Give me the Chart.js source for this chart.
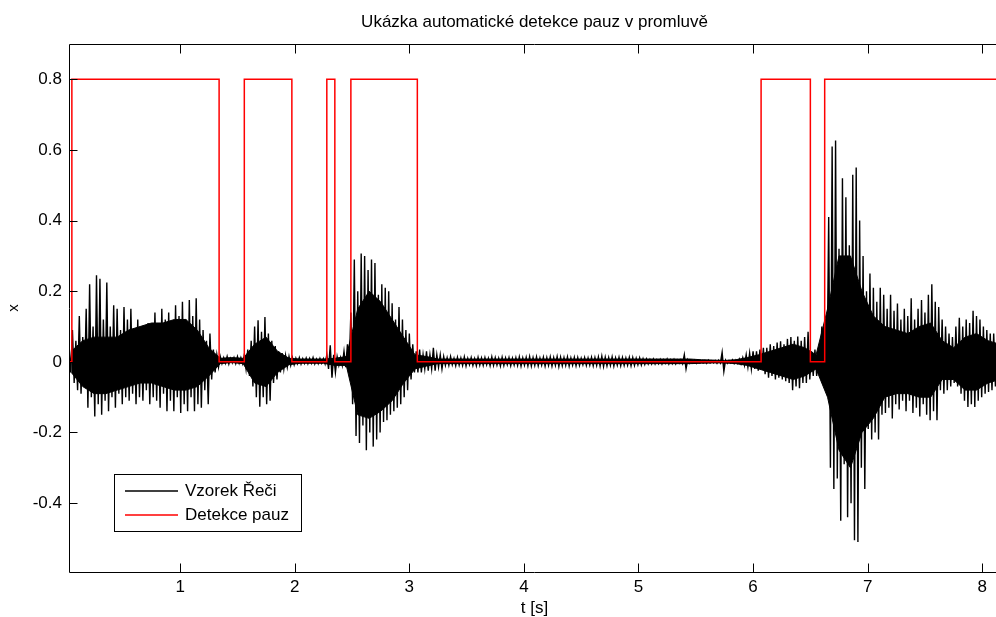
<!DOCTYPE html>
<html>
<head>
<meta charset="utf-8">
<script src="https://cdn.jsdelivr.net/npm/chart.js@4.4.1/dist/chart.umd.min.js"></script>
<style>
  html, body { margin: 0; padding: 0; background: #fff; overflow: hidden; }
</style>
</head>
<body>
<canvas id="myChart" width="1000" height="617"></canvas>
<script>
const chartTitle = "Ukázka automatické detekce pauz v promluvě";
const xTitle = "t [s]";
const yTitle = "x";
const seriesNames = ["Vzorek Řeči", "Detekce pauz"];
const seriesColors = ["#000000", "#ff0000"];
const xTicks = [1, 2, 3, 4, 5, 6, 7, 8];
const yTicks = [-0.4, -0.2, 0, 0.2, 0.4, 0.6, 0.8];

// speech sample: upper / lower peak in each 0.03 s window
const speechStart = 0.03;
const speechStep = 0.03;
const speechHi = [
    0.05, 0.09, 0.06, 0.13, 0.07, 0.15, 0.22, 0.1, 0.245, 0.235,
    0.12, 0.225, 0.1, 0.16, 0.15, 0.09, 0.155, 0.12, 0.15, 0.09,
    0.12, 0.08, 0.1, 0.11, 0.08, 0.14, 0.1, 0.15, 0.12, 0.14,
    0.1, 0.16, 0.13, 0.17, 0.12, 0.175, 0.13, 0.18, 0.12, 0.09,
    0.06, 0.08, 0.035, 0.02, 0.015, 0.012, 0.015, 0.01, 0.012, 0.015,
    0.012, 0.02, 0.035, 0.06, 0.1, 0.118, 0.085, 0.127, 0.08, 0.06,
    0.045, 0.03, 0.025, 0.018, 0.015, 0.012, 0.01, 0.012, 0.009, 0.011,
    0.01, 0.012, 0.008, 0.01, 0.009, 0.02, 0.047, 0.02, 0.015, 0.012,
    0.03, 0.05, 0.14, 0.29, 0.2, 0.307, 0.3, 0.26, 0.29, 0.28,
    0.19, 0.22, 0.21, 0.2, 0.166, 0.12, 0.155, 0.12, 0.09, 0.08,
    0.05, 0.03, 0.035, 0.02, 0.03, 0.02, 0.04, 0.02, 0.02, 0.015,
    0.012, 0.015, 0.01, 0.013, 0.011, 0.014, 0.01, 0.012, 0.009, 0.013,
    0.011, 0.012, 0.01, 0.014, 0.012, 0.01, 0.013, 0.011, 0.012, 0.01,
    0.012, 0.014, 0.011, 0.013, 0.015, 0.012, 0.014, 0.011, 0.013, 0.012,
    0.014, 0.012, 0.015, 0.013, 0.012, 0.014, 0.011, 0.013, 0.012, 0.01,
    0.012, 0.011, 0.013, 0.012, 0.014, 0.016, 0.013, 0.012, 0.014, 0.011,
    0.013, 0.012, 0.011, 0.013, 0.012, 0.01, 0.011, 0.009, 0.008, 0.007,
    0.008, 0.006, 0.007, 0.006, 0.008, 0.006, 0.007, 0.005, 0.006, 0.02,
    0.006, 0.004, 0.005, 0.004, 0.003, 0.004, 0.005, 0.003, 0.004, 0.005,
    0.027, 0.005, 0.004, 0.006, 0.005, 0.008, 0.012, 0.02, 0.025, 0.03,
    0.03, 0.035, 0.04, 0.04, 0.05, 0.045, 0.055, 0.058, 0.05, 0.065,
    0.07, 0.06, 0.072, 0.06, 0.07, 0.085, 0.03, 0.035, 0.03, 0.1,
    0.1, 0.41, 0.61, 0.627, 0.32, 0.52, 0.466, 0.33, 0.53, 0.55,
    0.4, 0.3, 0.2, 0.25, 0.21, 0.17, 0.21, 0.19, 0.15, 0.19,
    0.145, 0.165, 0.12, 0.15, 0.13, 0.18, 0.12, 0.15, 0.175, 0.14,
    0.19, 0.22, 0.17, 0.155, 0.12, 0.1, 0.08, 0.07, 0.1, 0.125,
    0.1, 0.12, 0.11, 0.145, 0.13, 0.12, 0.1, 0.09, 0.08, 0.08, 0.07
];
const speechLo = [
    -0.03, -0.06, -0.08, -0.09, -0.07, -0.13, -0.1, -0.155, -0.12, -0.15,
    -0.11, -0.14, -0.1, -0.13, -0.09, -0.12, -0.1, -0.11, -0.09, -0.12,
    -0.1, -0.11, -0.08, -0.12, -0.1, -0.11, -0.13, -0.09, -0.14, -0.11,
    -0.14, -0.1, -0.145, -0.12, -0.14, -0.1, -0.14, -0.12, -0.13, -0.08,
    -0.12, -0.05, -0.03, -0.015, -0.005, -0.004, -0.006, -0.003, -0.005, -0.004,
    -0.005, -0.02, -0.04, -0.07, -0.1, -0.127, -0.1, -0.12, -0.11, -0.06,
    -0.05, -0.03, -0.02, -0.015, -0.01, -0.008, -0.005, -0.006, -0.004, -0.005,
    -0.004, -0.006, -0.005, -0.004, -0.006, -0.02, -0.045, -0.03, -0.01, -0.01,
    -0.015, -0.02, -0.12, -0.21, -0.23, -0.18, -0.25, -0.2, -0.24, -0.22,
    -0.2, -0.17, -0.165, -0.15, -0.14, -0.13, -0.12, -0.1, -0.08, -0.05,
    -0.03, -0.03, -0.03, -0.02, -0.025, -0.02, -0.025, -0.015, -0.02, -0.01,
    -0.01, -0.008, -0.011, -0.009, -0.01, -0.012, -0.008, -0.01, -0.011, -0.009,
    -0.01, -0.008, -0.011, -0.01, -0.009, -0.012, -0.01, -0.008, -0.011, -0.009,
    -0.01, -0.012, -0.009, -0.011, -0.012, -0.01, -0.011, -0.009, -0.012, -0.01,
    -0.012, -0.01, -0.013, -0.011, -0.01, -0.012, -0.009, -0.011, -0.01, -0.008,
    -0.01, -0.009, -0.011, -0.01, -0.012, -0.013, -0.011, -0.01, -0.012, -0.009,
    -0.011, -0.01, -0.009, -0.011, -0.01, -0.008, -0.009, -0.007, -0.006, -0.006,
    -0.006, -0.005, -0.006, -0.004, -0.006, -0.005, -0.006, -0.004, -0.005, -0.02,
    -0.004, -0.003, -0.004, -0.003, -0.003, -0.004, -0.003, -0.003, -0.004, -0.003,
    -0.027, -0.004, -0.003, -0.005, -0.004, -0.006, -0.01, -0.015, -0.02, -0.02,
    -0.025, -0.02, -0.035, -0.045, -0.04, -0.05, -0.045, -0.05, -0.055, -0.06,
    -0.08, -0.07, -0.075, -0.06, -0.06, -0.05, -0.04, -0.04, -0.03, -0.05,
    -0.06, -0.3, -0.36, -0.33, -0.45, -0.29, -0.44, -0.4, -0.505, -0.51,
    -0.3, -0.36, -0.19, -0.22, -0.2, -0.22, -0.15, -0.145, -0.13, -0.16,
    -0.12, -0.135, -0.11, -0.14, -0.11, -0.145, -0.13, -0.155, -0.12, -0.15,
    -0.165, -0.14, -0.165, -0.08, -0.09, -0.08, -0.07, -0.06, -0.07, -0.09,
    -0.11, -0.128, -0.12, -0.128, -0.11, -0.1, -0.09, -0.085, -0.08, -0.07, -0.06
];

// dense solid core of the waveform, every 0.1 s
const coreStart = 0.05;
const coreStep = 0.1;
const coreHi = [
    0.03, 0.06, 0.07, 0.07, 0.07, 0.09, 0.1, 0.11, 0.11, 0.12,
    0.12, 0.09, 0.04, 0.01, 0.012, 0.01, 0.05, 0.07, 0.03, 0.01,
    0.008, 0.008, 0.008, 0.01, 0.015, 0.15, 0.2, 0.17, 0.12, 0.07,
    0.02, 0.015, 0.008, 0.008, 0.008, 0.008, 0.008, 0.008, 0.008, 0.008,
    0.008, 0.008, 0.008, 0.008, 0.008, 0.008, 0.008, 0.008, 0.008, 0.008,
    0.008, 0.008, 0.008, 0.008, 0.008, 0.006, 0.005, 0.004, 0.006, 0.012,
    0.02, 0.03, 0.04, 0.05, 0.04, 0.02, 0.15, 0.3, 0.3, 0.2,
    0.13, 0.1, 0.09, 0.08, 0.1, 0.11, 0.06, 0.04, 0.07, 0.08,
    0.06, 0.05
];
const coreLo = [
    -0.03, -0.07, -0.09, -0.09, -0.08, -0.07, -0.06, -0.06, -0.07, -0.08,
    -0.08, -0.07, -0.04, -0.005, -0.002, -0.005, -0.06, -0.07, -0.03, -0.008,
    -0.004, -0.004, -0.004, -0.01, -0.01, -0.15, -0.16, -0.14, -0.11, -0.06,
    -0.02, -0.012, -0.005, -0.005, -0.005, -0.005, -0.005, -0.005, -0.005, -0.005,
    -0.005, -0.005, -0.005, -0.005, -0.005, -0.005, -0.005, -0.005, -0.005, -0.005,
    -0.005, -0.005, -0.005, -0.005, -0.005, -0.004, -0.003, -0.003, -0.005, -0.01,
    -0.02, -0.03, -0.04, -0.05, -0.04, -0.02, -0.1, -0.25, -0.3, -0.2,
    -0.16, -0.1, -0.09, -0.09, -0.1, -0.1, -0.05, -0.05, -0.08, -0.08,
    -0.06, -0.05
];

// pause detector output: level switches at these times
const pauseTimes = [0.03, 0.055, 1.34, 1.56, 1.975, 2.28, 2.35, 2.49, 3.07, 6.07, 6.5, 6.625, 8.2];
const pauseLevels = [0, 0.8, 0, 0.8, 0, 0.8, 0, 0.8, 0, 0.8, 0, 0.8, 0.8];


window.onload = () => {
    const speech = [];
    speechHi.forEach((hi, i) => {
        const t = speechStart + i * speechStep;
        speech.push({ x: t, y: hi });
        speech.push({ x: t + speechStep / 2, y: speechLo[i] });
    });
    const coreTop = coreHi.map((v, i) => ({ x: coreStart + i * coreStep, y: v }));
    const coreBottom = coreLo.map((v, i) => ({ x: coreStart + i * coreStep, y: v }));
    const pauses = pauseTimes.map((t, i) => ({ x: t, y: pauseLevels[i] }));

    addChart(speech, coreTop, coreBottom, pauses);
}


// MATLAB style box round the axes with inward ticks
const framePlugin = {
    id: "frame",
    afterDraw(chart) {
        const { ctx, chartArea: a, scales } = chart;
        const l = Math.round(a.left) + 0.5, r = Math.round(a.right) - 0.5;
        const t = Math.round(a.top) + 0.5, b = Math.round(a.bottom) + 0.5;
        ctx.save();
        ctx.strokeStyle = "#000";
        ctx.lineWidth = 1;
        ctx.beginPath();
        ctx.rect(l, t, r - l, b - t);
        xTicks.forEach(v => {
            const px = Math.round(scales.x.getPixelForValue(v)) + 0.5;
            ctx.moveTo(px, b); ctx.lineTo(px, b - 9);
            ctx.moveTo(px, t); ctx.lineTo(px, t + 9);
        });
        yTicks.forEach(v => {
            const py = Math.round(scales.y.getPixelForValue(v)) + 0.5;
            ctx.moveTo(l, py); ctx.lineTo(l + 8, py);
        });
        ctx.stroke();
        ctx.restore();
    }
};

// legend box inside the plot, lower left
const legendPlugin = {
    id: "boxLegend",
    afterDraw(chart) {
        const ctx = chart.ctx;
        const x = 114.5, y = 474.5, w = 187, h = 57;
        ctx.save();
        ctx.fillStyle = "#fff";
        ctx.fillRect(x, y, w, h);
        ctx.strokeStyle = "#000";
        ctx.lineWidth = 1;
        ctx.strokeRect(x, y, w, h);
        ctx.font = "17px 'Liberation Sans', Arial, sans-serif";
        ctx.textBaseline = "middle";
        seriesNames.forEach((name, i) => {
            const ry = 491 + i * 24;
            ctx.strokeStyle = seriesColors[i];
            ctx.lineWidth = 1.5;
            ctx.beginPath();
            ctx.moveTo(125, ry);
            ctx.lineTo(178, ry);
            ctx.stroke();
            ctx.fillStyle = "#000";
            ctx.fillText(name, 185, ry);
        });
        ctx.restore();
    }
};


function addChart(speech, coreTop, coreBottom, pauses) {
    Chart.defaults.font.family = "'Liberation Sans', Arial, sans-serif";
    Chart.defaults.color = "#000";

    const data = {
        datasets: [
            {
                label: seriesNames[1],
                data: pauses,
                borderColor: seriesColors[1],
                borderWidth: 1.5,
                stepped: true,
                pointRadius: 0
            },
            {
                label: seriesNames[0],
                data: speech,
                borderColor: seriesColors[0],
                backgroundColor: seriesColors[0],
                borderWidth: 1.4,
                fill: "origin",
                pointRadius: 0,
                tension: 0
            },
            {
                label: "core",
                data: coreTop,
                borderColor: seriesColors[0],
                backgroundColor: seriesColors[0],
                borderWidth: 1,
                fill: "+1",
                pointRadius: 0
            },
            {
                label: "core low",
                data: coreBottom,
                borderColor: seriesColors[0],
                borderWidth: 1,
                pointRadius: 0
            }
        ]
    }

    const config = {
        type: "line",
        data: data,
        options: {
            responsive: false,
            animation: false,
            devicePixelRatio: 1,
            layout: { padding: 0 },
            plugins: {
                legend: { display: false },
                tooltip: { enabled: false },
                title: {
                    display: true,
                    fullSize: false,
                    text: chartTitle,
                    font: { size: 17, weight: "normal" },
                    color: "#000",
                    padding: { top: 12, bottom: 11.6 }
                }
            },
            scales: {
                x: {
                    type: "linear",
                    min: 0.03,
                    max: 8.155,
                    grid: { display: false, drawTicks: false },
                    border: { display: false },
                    afterBuildTicks: scale => { scale.ticks = xTicks.map(v => ({ value: v })); },
                    afterFit: scale => { scale.height = 45; },
                    ticks: { font: { size: 17 }, padding: 5, callback: v => String(v), maxRotation: 0 },
                    title: { display: true, text: xTitle, font: { size: 17 }, padding: { top: 0, bottom: -2 } }
                },
                y: {
                    min: -0.595,
                    max: 0.9,
                    grid: { display: false, drawTicks: false },
                    border: { display: false },
                    afterBuildTicks: scale => { scale.ticks = yTicks.map(v => ({ value: v })); },
                    afterFit: scale => { scale.width = 69; },
                    ticks: { font: { size: 17 }, padding: 7, callback: v => String(v) },
                    title: { display: true, text: yTitle, font: { size: 15 }, padding: { top: 5, bottom: 0 } }
                }
            }
        },
        plugins: [framePlugin, legendPlugin]
    }

    const ctx = document.getElementById("myChart").getContext("2d");
    const myChart = new Chart(ctx, config);
}
</script>
</body>
</html>
